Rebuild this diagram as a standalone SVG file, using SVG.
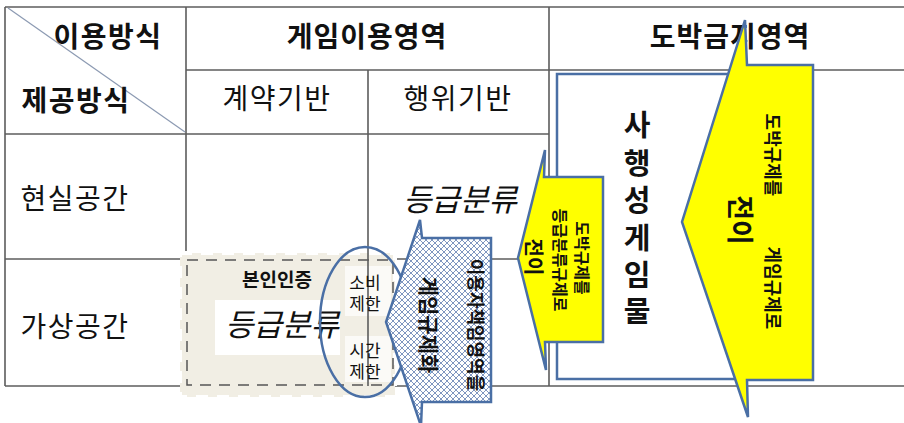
<svg xmlns="http://www.w3.org/2000/svg" width="904" height="423" viewBox="0 0 904 423">
<defs>
<style>
.t{font-family:"Noto Sans CJK KR","Noto Sans",sans-serif;fill:#111;}
.b{font-weight:bold;}
.h{font-size:28px;}
.grid{stroke:#5c5c5c;stroke-width:1.6;fill:none;}
.arr{stroke:#4a6fa5;stroke-width:2.5;stroke-linejoin:miter;}
.y{fill:#ffff00;}
.it{font-style:italic;font-size:31px;}
.v{font-size:29px;font-weight:bold;}
</style>
<pattern id="hatch" patternUnits="userSpaceOnUse" width="6" height="6">
<rect width="6" height="6" fill="#ffffff"/>
<path d="M0,0 L6,6 M6,0 L0,6" stroke="#7f96c0" stroke-width="1"/>
</pattern>
</defs>
<rect width="904" height="423" fill="#ffffff"/>

<g id="table">
<line class="grid" x1="5" y1="7" x2="904" y2="7"/>
<line class="grid" x1="186" y1="70" x2="904" y2="70"/>
<line class="grid" x1="5" y1="134" x2="549" y2="134"/>
<line class="grid" x1="5" y1="259" x2="549" y2="259"/>
<line class="grid" x1="5" y1="386" x2="904" y2="386"/>
<line class="grid" x1="5" y1="7" x2="5" y2="386"/>
<line class="grid" x1="186" y1="7" x2="186" y2="386"/>
<line class="grid" x1="368" y1="70" x2="368" y2="386"/>
<line class="grid" x1="549" y1="7" x2="549" y2="386"/>
<line x1="8" y1="8" x2="185" y2="132" stroke="#8c9ab2" stroke-width="1.2"/>
<text class="t b h" x="108" y="35" text-anchor="middle" dominant-baseline="central" letter-spacing="1.5">이용방식</text>
<text class="t b h" x="76" y="99" text-anchor="middle" dominant-baseline="central" letter-spacing="1.5">제공방식</text>
<text class="t b h" x="367" y="35" text-anchor="middle" dominant-baseline="central" letter-spacing="1">게임이용영역</text>
<text class="t b h" x="730" y="35" text-anchor="middle" dominant-baseline="central" letter-spacing="1">도박금지영역</text>
<text class="t h" x="277" y="97" text-anchor="middle" dominant-baseline="central" letter-spacing="1.5">계약기반</text>
<text class="t h" x="458" y="97" text-anchor="middle" dominant-baseline="central" letter-spacing="1.5">행위기반</text>
<text class="t h" x="75" y="197" text-anchor="middle" dominant-baseline="central" letter-spacing="1.5">현실공간</text>
<text class="t h" x="75" y="325" text-anchor="middle" dominant-baseline="central" letter-spacing="1.5">가상공간</text>
<text class="t it" x="460" y="197" text-anchor="middle" dominant-baseline="central">등급분류</text>
</g>

<g id="auth-box">
<rect x="180" y="253" width="215" height="144" fill="#f1eee4"/>
<rect x="180" y="253" width="215" height="144" fill="none" stroke="#ffffff" stroke-width="4" stroke-dasharray="12 9"/>
<rect x="187" y="260" width="206" height="125" fill="none" stroke="#555" stroke-width="1.5" stroke-dasharray="11 8"/>
<rect x="215" y="300" width="125" height="55" fill="#ffffff"/>
<rect x="345" y="266" width="46" height="50" fill="#fbfaf7"/>
<rect x="345" y="336" width="46" height="46" fill="#fbfaf7"/>
<line class="grid" x1="368" y1="253" x2="368" y2="386"/>
<text class="t b" x="277" y="278" font-size="19" text-anchor="middle" dominant-baseline="central">본인인증</text>
<text class="t it" x="282" y="322" text-anchor="middle" dominant-baseline="central">등급분류</text>
</g>

<g id="limit-ellipse">
<ellipse cx="365" cy="322" rx="45" ry="75" fill="none" stroke="#4a6fa5" stroke-width="2.5"/>
<text class="t" font-size="17" text-anchor="middle" dominant-baseline="central"><tspan x="365" y="281">소비</tspan><tspan x="365" y="302">제한</tspan></text>
<text class="t" font-size="17" text-anchor="middle" dominant-baseline="central"><tspan x="365" y="349">시간</tspan><tspan x="365" y="370">제한</tspan></text>
</g>

<g id="hatched-arrow">
<polygon class="arr" fill="url(#hatch)" points="420,220 422,238 491,238 491,402 422,402 421,426 386,322"/>
<text class="t b" font-size="18" transform="translate(477,325) rotate(90)" text-anchor="middle" dominant-baseline="central">이용자책임영역을</text>
<text class="t b" font-size="21" transform="translate(430,325) rotate(90)" text-anchor="middle" dominant-baseline="central">게임규제화</text>
</g>

<g id="gambling-rect">
<rect x="557" y="74" width="183" height="305" fill="#ffffff" stroke="#4a6fa5" stroke-width="2.5"/>
<text class="t v" text-anchor="middle" dominant-baseline="central"><tspan x="637" y="123">사</tspan><tspan x="637" y="161">행</tspan><tspan x="637" y="198">성</tspan><tspan x="637" y="236">게</tspan><tspan x="637" y="273">임</tspan><tspan x="637" y="309">물</tspan></text>
</g>

<g id="small-arrow">
<polygon class="arr y" points="545,150 544,177 603,177 603,342 545,342 546,370 518,258"/>
<text class="t b" font-size="16" transform="translate(583,258) rotate(90)" text-anchor="middle" dominant-baseline="central">도박규제를</text>
<text class="t b" font-size="16" transform="translate(561,260) rotate(90)" text-anchor="middle" dominant-baseline="central">등급분류규제로</text>
<text class="t b" font-size="20" transform="translate(534,257) rotate(90)" text-anchor="middle" dominant-baseline="central">전이</text>
</g>

<g id="big-arrow">
<polygon class="arr y" points="745,20 747,65 813,65 813,380 747,380 748,417 682,222"/>
<text class="t b" font-size="18" transform="translate(774,155) rotate(90)" text-anchor="middle" dominant-baseline="central">도박규제를</text>
<text class="t b" font-size="18" transform="translate(774,288) rotate(90)" text-anchor="middle" dominant-baseline="central">게임규제로</text>
<text class="t b" font-size="27" transform="translate(741,220) rotate(90)" text-anchor="middle" dominant-baseline="central">전이</text>
</g>
</svg>
